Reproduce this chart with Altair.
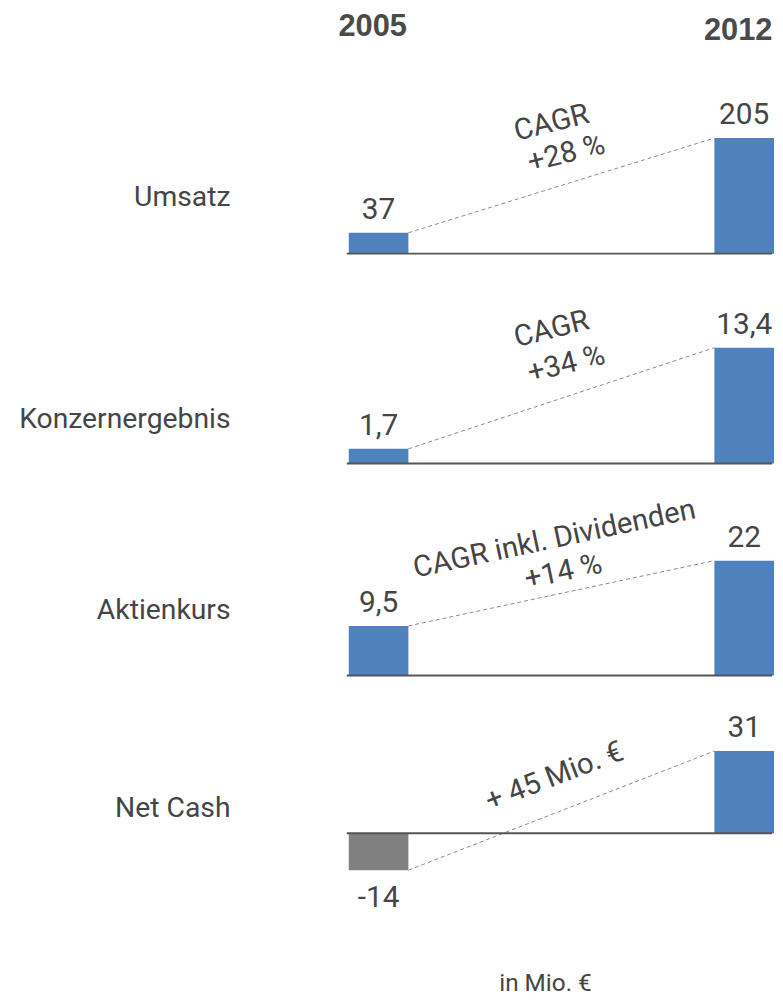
import math
import altair as alt
import pandas as pd

# ---------------- data ----------------
metrics = ["Umsatz", "Konzernergebnis", "Aktienkurs", "Net Cash"]
years = [2005, 2012]
year_headers = ["2005", "2012"]
values_2005 = [37, 1.7, 9.5, -14]
values_2012 = [205, 13.4, 22, 31]
labels_2005 = ["37", "1,7", "9,5", "-14"]
labels_2012 = ["205", "13,4", "22", "31"]
annotation_lines = [["CAGR", "+28 %"], ["CAGR", "+34 %"], ["CAGR inkl. Dividenden", "+14 %"], ["+ 45 Mio. €"]]
unit_note = "in Mio. €"

# ---------------- layout / style ----------------
W = 770
BAR_W = 60
PX_PER_YEAR = 368 / 7
X_FIRST = 373  # plot-x of first bar centre
x_domain = [2005 - X_FIRST / PX_PER_YEAR, 2005 + (W - X_FIRST) / PX_PER_YEAR]

# note_off: screen offsets (px) of each annotation line centre from the connector midpoint
panel_layout = [
    dict(h=254, base=243.0, tall=116.3, label_y=195.0, tilt=14, note_off=[(-10, -63), (5, -32)]),
    dict(h=210, base=200.3, tall=116.6, label_y=164.7, tilt=14, note_off=[(-10, -69.5), (5, -34.5)]),
    dict(h=214, base=203.7, tall=115.7, label_y=146.3, tilt=12, note_off=[(-7, -54.7), (2, -21.7)]),
    dict(h=312, base=148.3, tall=82.6, label_y=132.0, tilt=21, note_off=[(-7, -34.5)]),
]

TXT = "#454545"
BLUE = "#4F81BD"
GREY = "#808080"
FONT = "Roboto"

xscale = alt.Scale(domain=x_domain, nice=False, zero=False, padding=0)


def panel(i):
    lay = panel_layout[i]
    v0, v1 = values_2005[i], values_2012[i]
    k = lay["tall"] / max(v0, v1)
    ydom = [(lay["base"] - lay["h"]) / k, lay["base"] / k]
    yscale = alt.Scale(domain=ydom, nice=False, zero=False, padding=0)

    bars = pd.DataFrame({
        "year": years,
        "value": [v0, v1],
        "label": [labels_2005[i], labels_2012[i]],
    })
    conn = pd.DataFrame({
        "metric": [metrics[i]],
        "x0": [years[0]], "x1": [years[1]],
        "v0": [v0], "v1": [v1],
    })

    X = alt.X("year:Q", scale=xscale, axis=None)
    Y = alt.Y("value:Q", scale=yscale, axis=None)

    bar = alt.Chart(bars).mark_bar(width=BAR_W).encode(
        x=X, y=Y, y2=alt.datum(0),
        color=alt.condition("datum.value < 0", alt.value(GREY), alt.value(BLUE)),
    )
    pos_lab = alt.Chart(bars).transform_filter("datum.value >= 0").mark_text(
        font=FONT, fontSize=30, color=TXT, baseline="alphabetic", dy=-14
    ).encode(x=X, y=Y, text="label:N")
    neg_lab = alt.Chart(bars).transform_filter("datum.value < 0").mark_text(
        font=FONT, fontSize=30, color=TXT, baseline="alphabetic", dy=37
    ).encode(x=X, y=Y, text="label:N")

    CX = alt.X("x0:Q", scale=xscale, axis=None)
    connector = alt.Chart(conn).mark_rule(
        xOffset=BAR_W / 2, x2Offset=-BAR_W / 2, strokeDash=[4, 3], color="#8a8a8a", strokeWidth=1
    ).encode(x=CX, x2="x1:Q", y=alt.Y("v0:Q", scale=yscale, axis=None), y2="v1:Q")

    baseline = alt.Chart(conn).mark_rule(
        xOffset=-BAR_W / 2 - 2, x2Offset=BAR_W / 2 - 2, color="#555555", strokeWidth=2
    ).encode(x=CX, x2="x1:Q", y=alt.Y(datum=0, scale=yscale, axis=None))

    layers = [bar, connector, baseline, pos_lab, neg_lab]

    a = math.radians(lay["tilt"])
    for j, line in enumerate(annotation_lines[i]):
        ox, oy = lay["note_off"][j]
        # Vega applies dx/dy in the rotated frame
        ddx = ox * math.cos(a) - oy * math.sin(a)
        ddy = ox * math.sin(a) + oy * math.cos(a)
        ndf = conn.assign(note=line)
        layers.append(
            alt.Chart(ndf).transform_calculate(
                xm="(datum.x0 + datum.x1) / 2", vm="(datum.v0 + datum.v1) / 2"
            ).mark_text(
                font=FONT, fontSize=29.5, color=TXT, align="center", baseline="middle",
                angle=360 - lay["tilt"], dx=round(ddx, 2), dy=round(ddy, 2),
            ).encode(
                x=alt.X("xm:Q", scale=xscale, axis=None),
                y=alt.Y("vm:Q", scale=yscale, axis=None),
                text="note:N",
            )
        )

    layers.append(
        alt.Chart(conn).mark_text(
            font=FONT, fontSize=28.5, color=TXT, align="right", baseline="alphabetic"
        ).encode(x=alt.value(224), y=alt.value(lay["label_y"]), text="metric:N")
    )

    if i == 0:
        hdr = pd.DataFrame({"year": years, "head": year_headers})
        for yr, ypx in zip(year_headers, [24.3, 28.0]):
            layers.append(
                alt.Chart(hdr).transform_filter(f"datum.head == '{yr}'").mark_text(
                    font="Liberation Sans", fontSize=31, fontWeight="bold", color="#4a4a4a",
                    baseline="alphabetic", dx=-6,
                ).encode(x=alt.X("year:Q", scale=xscale, axis=None), y=alt.value(ypx), text="head:N")
            )
    if i == len(metrics) - 1:
        foot = pd.DataFrame({"note": [unit_note]})
        layers.append(
            alt.Chart(foot).mark_text(
                font=FONT, fontSize=24.5, color=TXT, align="center", baseline="alphabetic"
            ).encode(x=alt.value(541), y=alt.value(307), text="note:N")
        )

    return alt.layer(*layers).properties(width=W, height=lay["h"])


chart = alt.vconcat(*[panel(i) for i in range(len(metrics))], spacing=0).properties(
    padding=0, bounds="flush"
).configure_view(stroke=None).configure_concat(spacing=0)

chart.save("out.html", embed_options={"renderer": "svg", "actions": False})
